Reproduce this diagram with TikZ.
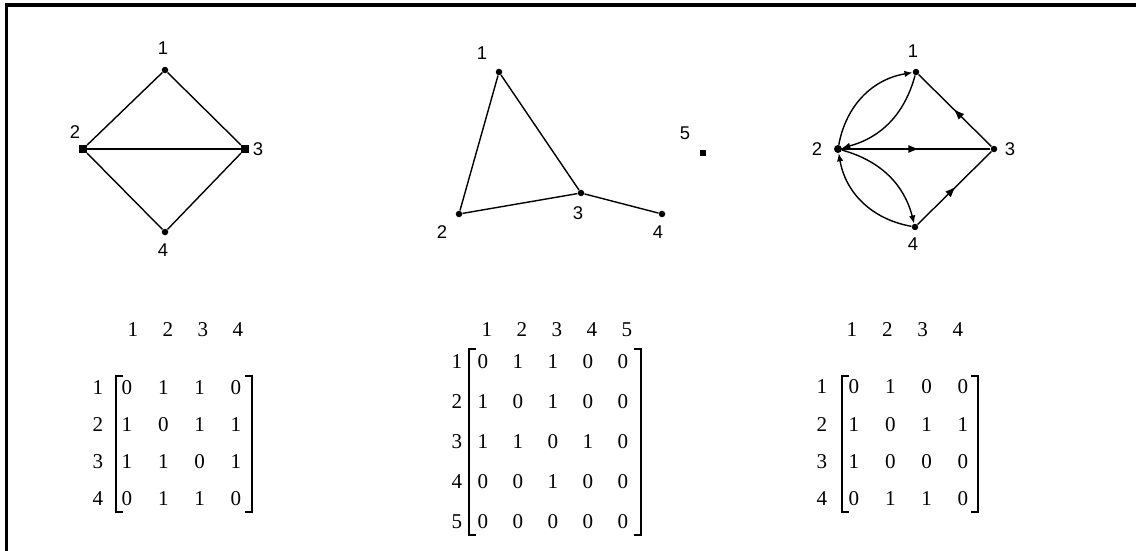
\documentclass[tikz,border=0pt]{standalone}
\usepackage{fontspec}
\setmainfont{Liberation Serif}
\setsansfont{Liberation Sans}
\usetikzlibrary{positioning,arrows.meta,decorations.markings}

\begin{document}
\begin{tikzpicture}[
  x=0.02cm, y=-0.02cm,
  vtx/.style={circle, fill, inner sep=0pt, minimum size=1.3mm},
  vsq/.style={rectangle, fill, inner sep=0pt, minimum size=1.5mm},
  lbl/.style={font=\sffamily\fontsize{10.5}{12}\selectfont, inner sep=0pt},
  ent/.style={font=\fontsize{12}{14}\selectfont, inner sep=0pt},
  lnk/.style={line width=0.8pt},
  brk/.style={line width=1pt},
  midarr/.style={postaction={decorate}, decoration={markings,
    mark=at position 0.52 with {\arrow{Latex[length=2.2mm,width=1.6mm]}}}},
  >={Latex[length=1.6mm,width=1.3mm]}
]
\useasboundingbox (0,0) rectangle (1136,551);
\draw[line width=2.2pt] (1136,5) -- (6.5,5) -- (6.5,551);

\node[vtx] (a1) at (165,70) {};
\node[vsq] (a2) at (83,149) {};
\node[vsq] (a3) at (245,149) {};
\node[vtx] (a4) at (165,232) {};
\node[lbl] (a1t) at (163,48) {1};
\node[lbl] (a2t) at (75,132) {2};
\node[lbl] (a3t) at (258,149) {3};
\node[lbl] (a4t) at (163,250) {4};
\draw[lnk] (a1) -- (a2);
\draw[lnk] (a1) -- (a3);
\draw[lnk] (a2) -- (a3);
\draw[lnk] (a2) -- (a4);
\draw[lnk] (a3) -- (a4);

\node[vtx] (b1) at (499,72) {};
\node[vtx] (b2) at (459,214) {};
\node[vtx] (b3) at (581,193) {};
\node[vtx] (b4) at (662,214) {};
\node[vsq, minimum size=1.2mm] (b5) at (703,153) {};
\node[lbl] (b1t) at (482,53) {1};
\node[lbl] (b2t) at (442,232) {2};
\node[lbl] (b3t) at (578,213) {3};
\node[lbl] (b4t) at (658,232) {4};
\node[lbl] (b5t) at (685,133) {5};
\draw[lnk] (b1) -- (b2);
\draw[lnk] (b1) -- (b3);
\draw[lnk] (b2) -- (b3);
\draw[lnk] (b3) -- (b4);

\node[vtx] (c1) at (916,72) {};
\node[vtx, minimum size=1.6mm] (c2) at (838,149) {};
\node[vtx] (c3) at (994,149) {};
\node[vtx] (c4) at (915,227) {};
\node[lbl] (c1t) at (913,51) {1};
\node[lbl] (c2t) at (817,149) {2};
\node[lbl] (c3t) at (1010,149) {3};
\node[lbl] (c4t) at (913,244) {4};
\draw[lnk, midarr] (c2) -- (c3);
\draw[lnk, midarr] (c3) -- (c1);
\draw[lnk, midarr] (c4) -- (c3);
\draw[lnk, ->] (c2) to[bend left=35] (c1);
\draw[lnk, ->] (c1) to[bend left=30] (c2);
\draw[lnk, ->] (c2) to[bend left=30] (c4);
\draw[lnk, ->] (c4) to[bend left=35] (c2);

\foreach \k [count=\j] in {1,...,4}
  \node[ent] (mah\j) at ({133+35*(\j-1)},330) {\k};
\foreach \y/\row [count=\i] in {388/{0,1,1,0},425/{1,0,1,1},462/{1,1,0,1},499/{0,1,1,0}} {
  \node[ent] (mar\i) at (98,\y) {\i};
  \foreach \v [count=\j] in \row
    \node[ent] (ma-\i-\j) at ({127+36.3*(\j-1)},\y) {\v};
}
\draw[brk] (123,376) -- (116,376) -- (116,512) -- (123,512);
\draw[brk] (245,376) -- (252,376) -- (252,512) -- (245,512);

\foreach \k [count=\j] in {1,...,5}
  \node[ent] (mbh\j) at ({487+35*(\j-1)},330) {\k};
\foreach \y/\row [count=\i] in {362/{0,1,1,0,0},402/{1,0,1,0,0},442/{1,1,0,1,0},482/{0,0,1,0,0},522/{0,0,0,0,0}} {
  \node[ent] (mbr\i) at (457,\y) {\i};
  \foreach \v [count=\j] in \row
    \node[ent] (mb-\i-\j) at ({483+35*(\j-1)},\y) {\v};
}
\draw[brk] (476,349) -- (469,349) -- (469,535) -- (476,535);
\draw[brk] (634,349) -- (641,349) -- (641,535) -- (634,535);

\foreach \k [count=\j] in {1,...,4}
  \node[ent] (mch\j) at ({852+35.3*(\j-1)},330) {\k};
\foreach \y/\row [count=\i] in {387/{0,1,0,0},425/{1,0,1,1},462/{1,0,0,0},499/{0,1,1,0}} {
  \node[ent] (mcr\i) at (822,\y) {\i};
  \foreach \v [count=\j] in \row
    \node[ent] (mc-\i-\j) at ({854+36.3*(\j-1)},\y) {\v};
}
\draw[brk] (849,376) -- (842,376) -- (842,512) -- (849,512);
\draw[brk] (971,376) -- (978,376) -- (978,512) -- (971,512);
\end{tikzpicture}
\end{document}
